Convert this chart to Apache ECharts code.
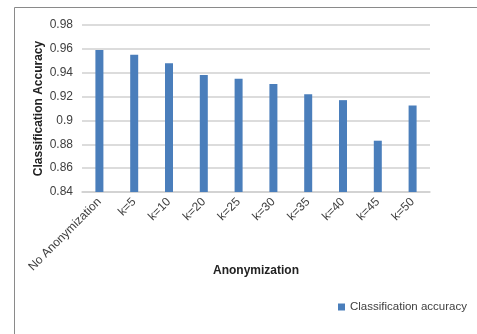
<!DOCTYPE html>
<html>
<head>
<meta charset="utf-8">
<script src="https://cdn.jsdelivr.net/npm/echarts@6/dist/echarts.min.js"></script>
<style>
  html, body { margin: 0; padding: 0; background: #fff; }
  #main { width: 477px; height: 334px; }
</style>
</head>
<body>
<div id="main"></div>
<script>
// categories and values
var categories = ['No Anonymization', 'k=5', 'k=10', 'k=20', 'k=25', 'k=30', 'k=35', 'k=40', 'k=45', 'k=50'];
var accuracy = [0.959, 0.955, 0.948, 0.938, 0.935, 0.9305, 0.922, 0.917, 0.883, 0.9125];
var yMin = 0.84, yMax = 0.98, yStep = 0.02;

var myChart = echarts.init(document.getElementById('main'));
var font = 'Liberation Sans, Arial, sans-serif';
myChart.setOption({
    animation: false,
    textStyle: { fontFamily: font },
    // outer frame (only left and top edges are visible)
    graphic: [{
        type: 'rect',
        shape: { x: 14.5, y: 7.5, width: 500, height: 400 },
        style: { fill: 'none', stroke: '#8a8a8a', lineWidth: 1 }
    }],
    grid: { left: 82, right: 47, top: 25, bottom: 142 },
    legend: {
        data: ['Classification accuracy'],
        left: 333, top: 296,
        icon: 'rect', itemWidth: 7, itemHeight: 7, itemGap: 4,
        textStyle: { fontSize: 11.5, color: '#404040', fontFamily: font }
    },
    xAxis: {
        type: 'category',
        data: categories,
        name: 'Anonymization',
        nameLocation: 'middle',
        nameGap: 73,
        nameMoveOverlap: false,
        nameTextStyle: { fontWeight: 'bold', fontSize: 12, color: '#222' },
        axisLine: { lineStyle: { color: '#d0d0d0', width: 1.5 } },
        axisTick: { show: false },
        axisLabel: { rotate: 45, interval: 0, fontSize: 12, color: '#404040', margin: 8 }
    },
    yAxis: {
        type: 'value',
        min: yMin, max: yMax, interval: yStep,
        name: 'Classification Accuracy',
        nameLocation: 'middle',
        nameRotate: 90,
        nameGap: 37,
        nameMoveOverlap: false,
        nameTextStyle: { fontWeight: 'bold', fontSize: 12, color: '#222' },
        axisLine: { show: false },
        axisTick: { show: false },
        axisLabel: { fontSize: 12, color: '#404040', margin: 9 },
        splitLine: { lineStyle: { color: '#d0d0d0', width: 1.5 } }
    },
    series: [{
        name: 'Classification accuracy',
        type: 'bar',
        barWidth: 8,
        itemStyle: { color: '#4a7ebb' },
        data: accuracy
    }]
});
</script>
</body>
</html>
